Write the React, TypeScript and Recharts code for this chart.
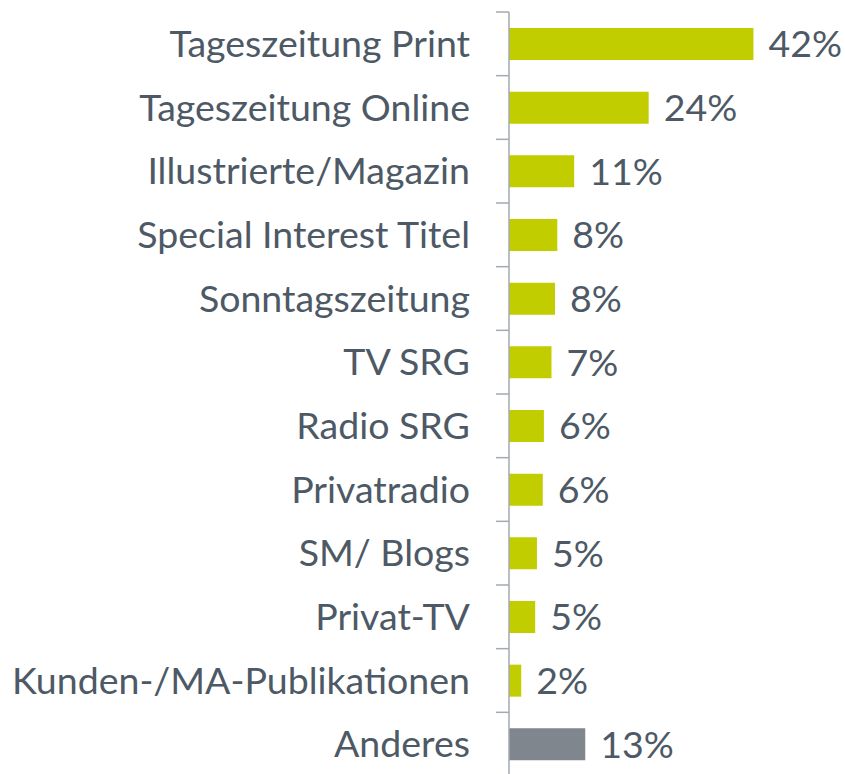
import React from 'react';
import { Bar, BarChart, Cell, LabelList, XAxis, YAxis } from 'recharts';

const categories = [
  'Tageszeitung Print',
  'Tageszeitung Online',
  'Illustrierte/Magazin',
  'Special Interest Titel',
  'Sonntagszeitung',
  'TV SRG',
  'Radio SRG',
  'Privatradio',
  'SM/ Blogs',
  'Privat-TV',
  'Kunden-/MA-Publikationen',
  'Anderes',
];
const shares = [42, 24, 11.2, 8.3, 7.9, 7.3, 6.0, 5.8, 4.8, 4.5, 2.1, 13.1];
const highlighted = ['Anderes'];

const data = categories.map((name, i) => ({ name, value: shares[i] }));

const W = 845;
const H = 780;
const TOP = 12;
const BOTTOM = 4;
const band = (H - TOP - BOTTOM) / categories.length;
const textColor = '#4d5965';
const lineColor = '#a3aab0';
const fontSize = 37.5;

const CategoryTick = (props: any) => {
  const { x, y, payload } = props;
  // tick marks sit on the band boundaries, not at the centre
  return (
    <g>
      <line x1={x + 26} x2={x + 39} y1={y - band / 2} y2={y - band / 2} stroke={lineColor} strokeWidth={1.5} />
      <text x={x} y={y} dy="0.35em" textAnchor="end" fill={textColor} fontSize={fontSize} fontFamily="Lato">
        {payload.value}
      </text>
    </g>
  );
};

export default function App() {
  return (
    <div style={{ position: 'fixed', left: 0, top: 0, width: W, height: 774, overflow: 'hidden', background: '#fff' }}>
      <BarChart
        width={W}
        height={H}
        data={data}
        layout="vertical"
        margin={{ top: TOP, right: 45, bottom: BOTTOM, left: 0 }}
      >
        <XAxis type="number" domain={[0, 50]} hide />
        <YAxis
          type="category"
          dataKey="name"
          width={509}
          tickSize={13}
          tickMargin={26}
          tickLine={false}
          axisLine={{ stroke: lineColor, strokeWidth: 1.5 }}
          tick={<CategoryTick />}
          interval={0}
        />
        <Bar dataKey="value" barSize={32} isAnimationActive={false}>
          {data.map((d) => (
            <Cell key={d.name} fill={highlighted.includes(d.name) ? '#7f868e' : '#c2cd00'} />
          ))}
          <LabelList
            dataKey="value"
            position="right"
            offset={15}
            formatter={(v: any) => `${Math.round(Number(v))}%`}
            fill={textColor}
            fontSize={fontSize}
            fontFamily="Lato"
          />
        </Bar>
      </BarChart>
    </div>
  );
}
